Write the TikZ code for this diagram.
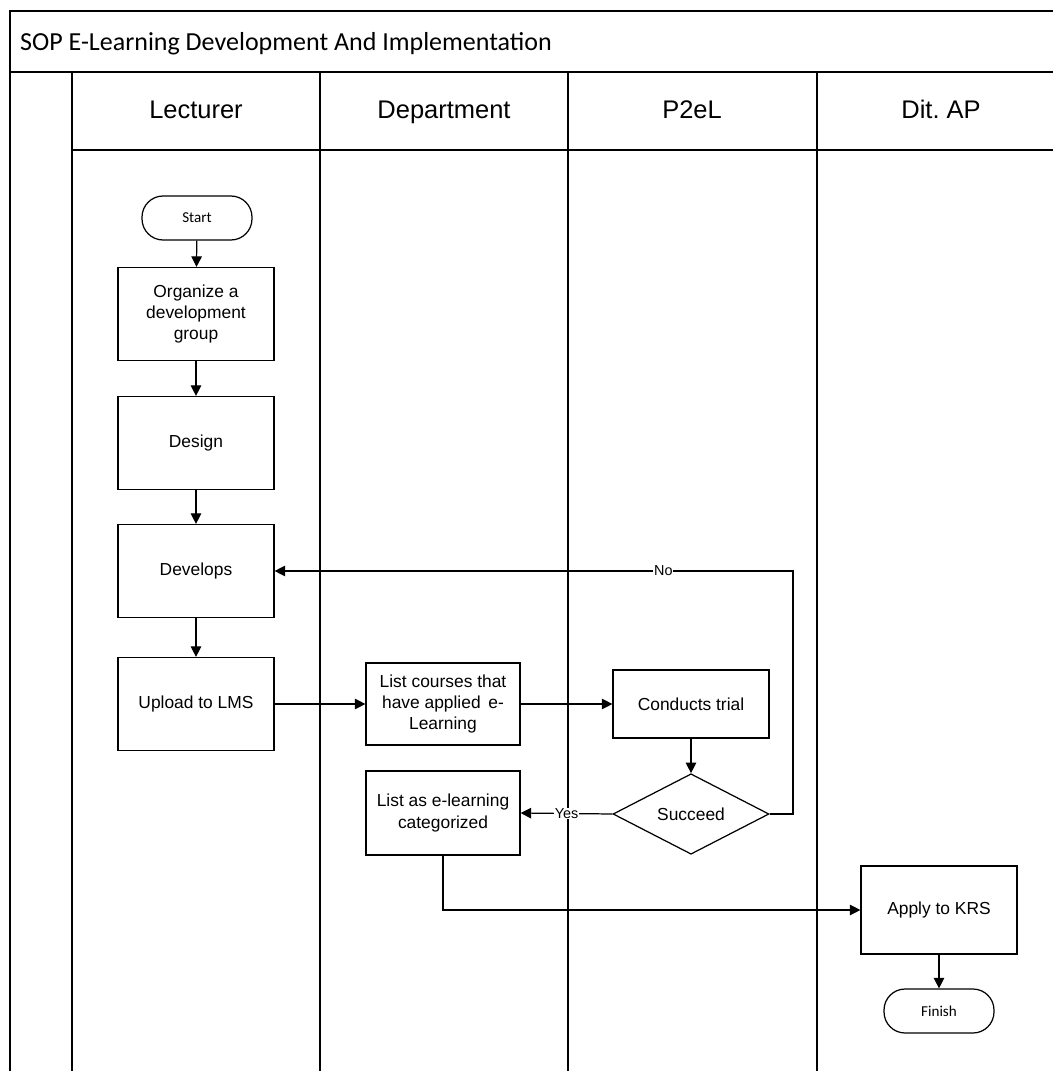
\documentclass[tikz,border=0pt]{standalone}
\usepackage{fontspec}
\setmainfont{Liberation Sans}
\newfontfamily\calibri{Carlito}
\usepackage{tikz}
\usetikzlibrary{arrows.meta,shapes.geometric}

\begin{document}
\begin{tikzpicture}[x=0.02cm, y=-0.02cm, >={Triangle[length=6pt,width=6pt]},
  lane/.style={line width=1.2pt},
  head/.style={anchor=base, font=\fontsize{14.5}{16}\selectfont},
  box/.style={draw, line width=0.7pt, align=center, font=\fontsize{9.9}{12}\selectfont,
    minimum width=3.12cm, minimum height=1.86cm, inner sep=2pt},
  pill/.style={draw, line width=0.7pt, rounded corners=12pt, font=\calibri\fontsize{8.6}{10}\selectfont,
    minimum width=2.2cm, minimum height=0.88cm},
  flow/.style={->, line width=0.7pt},
  tag/.style={fill=white, inner sep=0.5pt, font=\fontsize{8.2}{9}\selectfont}]
  \useasboundingbox (0,0) rectangle (1053,1071);
  % swimlane frame
  \draw[lane] (1053,11) -- (10,11) -- (10,1071);
  \draw[lane] (10,72) -- (1053,72);
  \draw[line width=0.8pt] (72,150) -- (1053,150);
  \foreach \x in {72,320,568,817}
    \draw[lane] (\x,72) -- (\x,1071);
  \node[anchor=west, font=\calibri\fontsize{14.8}{16}\selectfont] (title) at (14,44)
    {SOP E-Learning Development And Implementation};
  \node[head] (hlec) at (196,119) {Lecturer};
  \node[head] (hdep) at (444,119) {Department};
  \node[head] (hpel) at (692,119) {P2eL};
  \node[head] (hdit) at (941,119) {Dit.\ AP};

  % steps
  \node[pill] (start) at (197,218) {Start};
  \node[box] (org) at (196,314) {Organize a\\development\\group};
  \node[box] (des) at (196,443) {Design};
  \node[box] (dev) at (196,571) {Develops};
  \node[box] (lms) at (196,704) {Upload to LMS};
  \node[box, minimum width=3.08cm, minimum height=1.64cm] (lst) at (443,704)
    {List courses that\\have applied\, e-\\Learning};
  \node[box, minimum height=1.36cm] (tri) at (691,704) {Conducts trial};
  \node[draw, diamond, line width=0.7pt, inner sep=0pt, minimum width=3.12cm,
    minimum height=1.6cm, font=\fontsize{9.9}{12}\selectfont] (suc) at (691,814) {Succeed};
  \node[box, minimum width=3.08cm, minimum height=1.68cm] (cat) at (443,813)
    {List as e-learning\\categorized};
  \node[box, minimum height=1.76cm] (krs) at (939,910) {Apply to KRS};
  \node[pill] (fin) at (939,1011) {Finish};
  \coordinate (noturn) at (793,571);

  % connectors
  \draw[flow] (start) -- (org);
  \draw[flow] (org) -- (des);
  \draw[flow] (des) -- (dev);
  \draw[flow] (dev) -- (lms);
  \draw[flow] (lms) -- (lst);
  \draw[flow] (lst) -- (tri);
  \draw[flow] (tri) -- (suc);
  \draw[flow] (suc.east) -| (noturn) -- node[tag, pos=0.25] {No} (dev.east);
  \draw[flow] (suc.west) -- node[tag] {Yes} (cat.east);
  \draw[flow] (cat.south) |- (krs.west);
  \draw[flow] (krs) -- (fin);
\end{tikzpicture}
\end{document}
